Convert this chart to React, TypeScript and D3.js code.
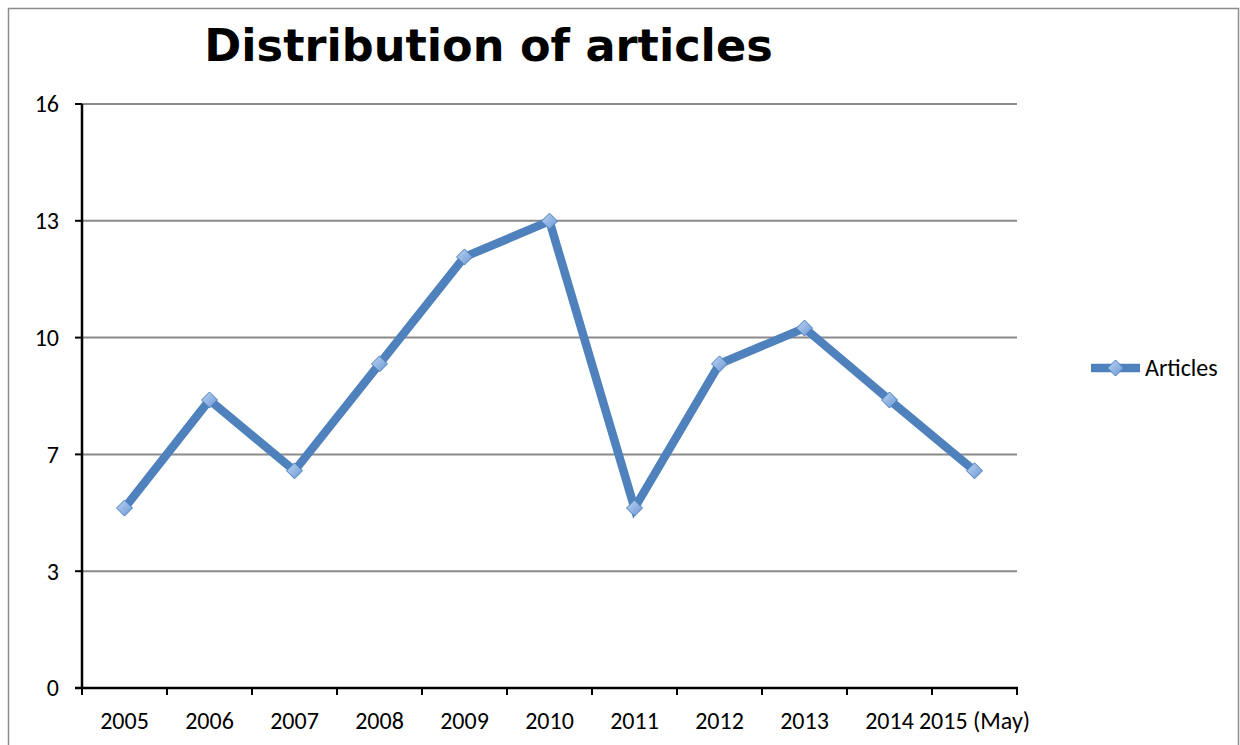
import React from "react";
import * as d3 from "d3";

const categories = ["2005", "2006", "2007", "2008", "2009", "2010", "2011", "2012", "2013", "2014", "2015 (May)"];
const articles = [4.93, 7.89, 5.95, 8.88, 11.81, 12.79, 4.93, 8.88, 9.86, 7.89, 5.95];
const tickValues = [0, 3.2, 6.4, 9.6, 12.8, 16];
const tickLabels = ["0", "3", "7", "10", "13", "16"];

const W = 1240, H = 745;
const left = 82, right = 1017, top = 104, bottom = 688;
const blue = "#4f81bd";
const labelFont = "Carlito, Lato, 'Open Sans', sans-serif";

export default function App() {
  const x = d3.scaleBand<string>().domain(categories).range([left, right]).paddingInner(0).paddingOuter(0);
  const y = d3.scaleLinear().domain([0, 16]).range([bottom, top]);
  const line = d3.line<number>()
    .x((_, i) => (x(categories[i]) as number) + x.bandwidth() / 2)
    .y((d) => y(d));
  const diamond = (cx: number, cy: number, r: number) =>
    `M${cx},${cy - r}L${cx + r},${cy}L${cx},${cy + r}L${cx - r},${cy}Z`;
  const xTicks = [...categories.map((c) => x(c) as number), right];

  return (
    <svg width={W} height={H} style={{ position: "absolute", left: 0, top: 0 }}>
      <defs>
        <linearGradient id="mk" x1="0" y1="0" x2="1" y2="1">
          <stop offset="0" stopColor="#bcd3f2" />
          <stop offset="1" stopColor="#6a97d4" />
        </linearGradient>
      </defs>
      <rect x={0} y={0} width={W} height={H} fill="#fff" />
      <rect x={8.5} y={8.5} width={1230} height={760} fill="none" stroke="#8c8c8c" strokeWidth={1.5} />
      <text x={488.5} y={61} textAnchor="middle" fontFamily="'DejaVu Sans', Verdana, sans-serif" fontWeight="bold" fontSize={44.6} fill="#000">
        Distribution of articles
      </text>
      {tickValues.slice(1).map((t, i) => (
        <line key={"g" + i} x1={left} x2={right} y1={y(t)} y2={y(t)} stroke="#8a8a8a" strokeWidth={2} />
      ))}
      {tickValues.map((t, i) => (
        <g key={"yt" + i}>
          <line x1={left - 7} x2={left} y1={y(t)} y2={y(t)} stroke="#000" strokeWidth={2} />
          <text x={59} y={y(t)} dy="0.35em" textAnchor="end" fontFamily={labelFont} fontSize={24} fill="#000">
            {tickLabels[i]}
          </text>
        </g>
      ))}
      {xTicks.map((t, i) => (
        <line key={"xt" + i} x1={t} x2={t} y1={bottom} y2={bottom + 7} stroke="#000" strokeWidth={2} />
      ))}
      <line x1={left} x2={left} y1={top} y2={bottom + 1} stroke="#000" strokeWidth={2.5} />
      <line x1={left - 7} x2={right + 1} y1={bottom} y2={bottom} stroke="#000" strokeWidth={2.5} />
      {categories.map((c, i) => (
        <text key={"xl" + i} x={(x(c) as number) + x.bandwidth() / 2} y={720.5} dy="0.35em" textAnchor="middle" fontFamily={labelFont} fontSize={24} fill="#000">
          {c}
        </text>
      ))}
      <path d={line(articles) || ""} fill="none" stroke={blue} strokeWidth={8.5} strokeLinejoin="miter" />
      {articles.map((v, i) => (
        <path key={"m" + i} d={diamond((x(categories[i]) as number) + x.bandwidth() / 2, y(v), 8)} fill="url(#mk)" stroke="#4a7ebb" strokeWidth={1} />
      ))}
      <line x1={1091} x2={1140} y1={368} y2={368} stroke={blue} strokeWidth={8.5} />
      <path d={diamond(1115.5, 368, 8)} fill="url(#mk)" stroke="#4a7ebb" strokeWidth={1} />
      <text x={1145} y={368} dy="0.35em" fontFamily={labelFont} fontSize={24} fill="#000">Articles</text>
    </svg>
  );
}
